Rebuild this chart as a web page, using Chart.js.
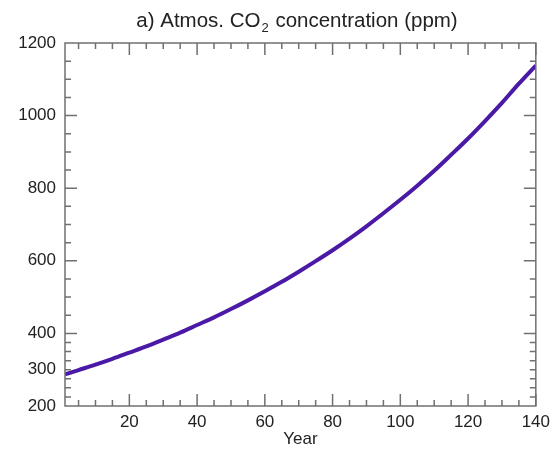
<!DOCTYPE html>
<html>
<head>
<meta charset="utf-8">
<script src="https://cdn.jsdelivr.net/npm/chart.js@4/dist/chart.umd.min.js"></script>
<style>
  html, body { margin: 0; padding: 0; background: #fff; }
  #wrap { width: 556px; height: 450px; }
</style>
</head>
<body>
<div id="wrap"><canvas id="co2"></canvas></div>
<script>
// years and CO2 values (ppm)
const years = [1, 5, 10, 15, 20, 25, 30, 35, 40, 45, 50, 55, 60, 65, 70,
  75, 80, 85, 90, 95, 100, 105, 110, 115, 120, 125, 130, 135, 140]
const co2 = [287, 299, 314, 330, 347, 364, 383, 402, 423, 444, 467, 491, 516,
  542, 570, 599, 629, 661, 695, 731, 768, 807, 848, 892, 937, 985, 1035, 1088, 1138]

const xLabelTicks = [20, 40, 60, 80, 100, 120, 140]
const xMinorTicks = [5, 10, 15, 25, 30, 35, 45, 50, 55, 65, 70, 75, 85, 90, 95,
  105, 110, 115, 125, 130, 135]
const yLabelTicks = [200, 300, 400, 600, 800, 1000, 1200]
const yMajorTicks = [400, 600, 800, 1000]
const yMinorTicks = [225, 250, 275, 300, 325, 350, 375, 450, 500, 550, 650, 700,
  750, 850, 900, 950, 1050, 1100, 1150]

const textColor = '#222'
const axisColor = '#707070'
const lineColor = '#4a1aa6'
const fontFamily = '"Liberation Sans", Arial, Helvetica, sans-serif'

// inward tick marks on all four sides + the frame
const frameTicks = {
  id: 'frameTicks',
  afterDraw(chart) {
    const { ctx, chartArea: a, scales: { x, y } } = chart
    ctx.save()
    ctx.strokeStyle = axisColor
    ctx.lineWidth = 1.5
    ctx.strokeRect(a.left, a.top, a.right - a.left, a.bottom - a.top)
    ctx.beginPath()
    const xt = (v, len) => {
      const px = x.getPixelForValue(v)
      ctx.moveTo(px, a.bottom); ctx.lineTo(px, a.bottom - len)
      ctx.moveTo(px, a.top); ctx.lineTo(px, a.top + len)
    }
    const yt = (v, len) => {
      const py = y.getPixelForValue(v)
      ctx.moveTo(a.left, py); ctx.lineTo(a.left + len, py)
      ctx.moveTo(a.right, py); ctx.lineTo(a.right - len, py)
    }
    xLabelTicks.forEach(v => xt(v, 12))
    xMinorTicks.forEach(v => xt(v, 6))
    yMajorTicks.forEach(v => yt(v, 12))
    yMinorTicks.forEach(v => yt(v, 6))
    ctx.stroke()
    ctx.restore()
  }
}

// title with subscript 2
const subTitle = {
  id: 'subTitle',
  afterDraw(chart) {
    const { ctx } = chart
    const big = '20.5px ' + fontFamily
    const small = '13px ' + fontFamily
    const parts = ['a) Atmos. CO', '2', ' concentration (ppm)']
    ctx.save()
    ctx.fillStyle = textColor
    ctx.textBaseline = 'alphabetic'
    ctx.font = big
    const w0 = ctx.measureText(parts[0]).width
    const w2 = ctx.measureText(parts[2]).width
    ctx.font = small
    const w1 = ctx.measureText(parts[1]).width
    let xPos = 296 - (w0 + w1 + w2) / 2
    const base = 27
    ctx.font = big
    ctx.fillText(parts[0], xPos, base)
    xPos += w0 + 1
    ctx.font = small
    ctx.fillText(parts[1], xPos, base + 5)
    xPos += w1 + 1
    ctx.font = big
    ctx.fillText(parts[2], xPos, base)
    ctx.restore()
  }
}

new Chart(document.getElementById('co2'), {
  type: 'line',
  data: {
    datasets: [{
      data: years.map((yr, i) => ({ x: yr, y: co2[i] })),
      borderColor: lineColor,
      borderWidth: 4,
      pointRadius: 0,
      tension: 0.4,
      cubicInterpolationMode: 'monotone',
      fill: false,
    }],
  },
  options: {
    responsive: true,
    maintainAspectRatio: false,
    animation: false,
    layout: { padding: { top: 43, right: 17, bottom: 0, left: 0 } },
    plugins: {
      legend: { display: false },
      tooltip: { enabled: false },
      title: { display: false },
    },
    scales: {
      x: {
        type: 'linear',
        min: 1,
        max: 140,
        afterBuildTicks: (s) => { s.ticks = xLabelTicks.map(v => ({ value: v })) },
        afterFit: (s) => { s.height = 44 },
        grid: { display: false, drawTicks: false },
        border: { display: false },
        ticks: {
          color: textColor,
          font: { family: fontFamily, size: 17 },
          padding: 6,
          maxRotation: 0,
          callback: (v) => String(v),
        },
        title: {
          display: true,
          text: 'Year',
          color: textColor,
          font: { family: fontFamily, size: 17 },
          padding: { top: -2, bottom: 0 },
        },
      },
      y: {
        type: 'linear',
        min: 200,
        max: 1200,
        afterBuildTicks: (s) => { s.ticks = yLabelTicks.map(v => ({ value: v })) },
        afterFit: (s) => { s.width = 65 },
        grid: { display: false, drawTicks: false },
        border: { display: false },
        ticks: {
          color: textColor,
          font: { family: fontFamily, size: 17 },
          padding: 9,
          callback: (v) => String(v),
        },
      },
    },
  },
  plugins: [frameTicks, subTitle],
})
</script>
</body>
</html>
